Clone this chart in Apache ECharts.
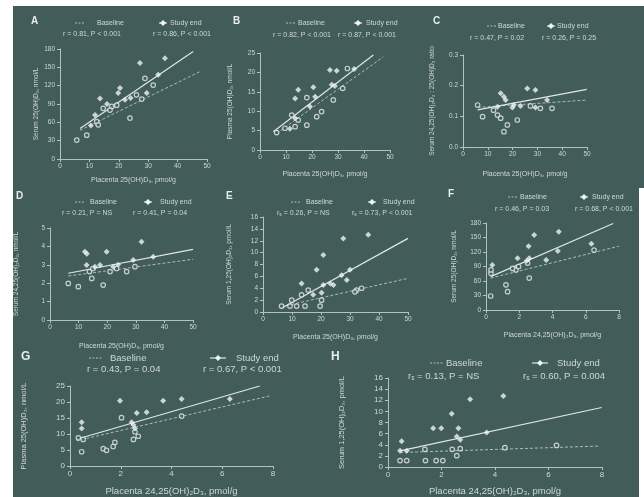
<!DOCTYPE html>
<html>
<head>
<meta charset="utf-8">
<script src="https://cdn.jsdelivr.net/npm/echarts@6/dist/echarts.min.js"></script>
<style>
html, body { margin: 0; padding: 0; background: #fff; }
#wrap { position: relative; width: 644px; height: 497px; overflow: hidden; }
#bg { position: absolute; left: 13px; top: 6px; width: 631px; height: 491px; background: #425c59; }
#cut { position: absolute; left: 639px; top: 188px; width: 5px; height: 309px; background: #fff; }
#chart { position: absolute; left: 0; top: 0; width: 644px; height: 497px; }
</style>
</head>
<body>
<div id="wrap"><div id="bg"></div><div id="cut"></div><div id="chart"></div></div>
<script>
// A: serum 25(OH)D3 vs placenta 25(OH)D3
var aBase = [[5.7,31],[9.1,39],[12.5,61],[13,56],[14.7,83],[17.6,86],[19.3,88],[23.8,67],[26,105],[27.8,98],[31.7,121],[28.9,132],[17,80]];
var aEnd = [[11.9,72],[13.6,99],[19.8,108],[20.4,116],[22.1,97],[29.5,108],[33.4,138],[27.2,157],[35.7,165],[16,90],[24,100],[10.5,55]];
var aBaseFit = [[6.8,47],[47.6,143]];
var aEndFit = [[6.8,50],[45.3,176]];
// B: plasma 25(OH)D3 vs placenta 25(OH)D3
var bBase = [[6.4,4.5],[9.6,5.6],[13.5,6],[14.7,7.7],[18,6.4],[12.2,9],[21.8,8.6],[23.7,9.9],[28.2,12.9],[31.8,15.9],[18,13.5],[33.6,21]];
var bEnd = [[11.5,5.5],[13.5,8.2],[19.2,11.2],[13.5,13.3],[21.2,13.7],[14.7,15.5],[20.5,16.2],[27.6,16.8],[28.8,16.5],[26.9,20.6],[29.5,20.4],[36.2,20.9]];
var bBaseFit = [[6.4,4.3],[47.4,24]];
var bEndFit = [[5.1,4.7],[43.6,24.5]];
// C: 24,25(OH)2D3 : 25(OH)D3 ratio vs placenta 25(OH)D3
var cBase = [[5.9,0.137],[13.9,0.104],[15.2,0.094],[17.9,0.072],[16.5,0.05],[21.9,0.088],[27.2,0.134],[31.2,0.126],[35.9,0.126],[7.9,0.099],[12.3,0.12]];
var cEnd = [[15.2,0.175],[16.5,0.164],[17.2,0.153],[25.9,0.191],[29.2,0.186],[13.9,0.131],[19.9,0.129],[20.5,0.137],[23.2,0.134],[29.2,0.129],[33.9,0.153]];
var cBaseFit = [[5.9,0.129],[49.9,0.153]];
var cEndFit = [[5.9,0.121],[49.9,0.188]];
// D: serum 24,25(OH)2D3 vs placenta 25(OH)D3
var dBase = [[6.4,1.99],[9.9,1.81],[14.6,2.26],[18.6,1.9],[21,2.63],[26.8,2.63],[13.8,2.63],[29.7,2.9],[23.3,2.8],[15,2.8]];
var dEnd = [[12.2,3.71],[12.9,3.6],[19.8,3.71],[32,4.25],[12.8,2.99],[15.7,2.9],[17.5,2.99],[22.1,2.9],[23.8,3],[29.1,3.26],[36.1,3.44]];
var dBaseFit = [[6.4,2.39],[50,3.3]];
var dEndFit = [[6.4,2.54],[50,3.84]];
// E: serum 1,25(OH)2D3 vs placenta 25(OH)D3
var eBase = [[6.4,1.0],[9.3,1.0],[11.6,1.0],[14.5,1.0],[19.7,1.0],[9.9,2.0],[20.2,2.0],[13.3,2.9],[32.3,3.7],[34,4.0],[31.7,3.4],[15.6,3.7]];
var eEnd = [[17.3,2.9],[20.2,3.25],[13.3,4.8],[20.8,4.55],[24.3,4.55],[23.2,4.8],[28.9,5.4],[27.1,6.2],[30,7.1],[18.5,7.1],[20.8,9.6],[27.7,12.4],[36.3,13]];
var eBaseFit = [[6.4,0.9],[50,5.67]];
var eEndFit = [[6.4,0.62],[50,12.4]];
// F: serum 25(OH)D3 vs placenta 24,25(OH)2D3
var fBase = [[0.28,29],[1.3,38],[1.2,52],[2.6,66],[0.3,76],[0.3,83],[1.8,83],[1.6,86],[1.96,90],[2.5,97],[6.5,124]];
var fEnd = [[0.38,93],[2.45,102],[1.9,107],[2.6,107],[3.62,103.5],[4.32,122],[2.56,132],[6.34,137],[2.9,155],[4.38,162]];
var fBaseFit = [[0.28,66],[8,132]];
var fEndFit = [[0.28,69],[7.65,179]];
// G: plasma 25(OH)D3 vs placenta 24,25(OH)2D3
var gBase = [[0.46,4.45],[1.31,5.4],[1.44,4.9],[1.7,6.1],[1.77,7.4],[0.33,8.8],[0.52,8.3],[2.5,8.3],[2.69,9.3],[2.56,10.7],[4.4,15.6],[2.03,15.1]];
var gEnd = [[0.46,11.7],[0.46,13.7],[2.43,13.7],[2.5,12.8],[2.56,11.7],[2.63,16.6],[3.02,16.8],[1.97,20.4],[3.67,20.4],[4.4,20.9],[6.3,20.9]];
var gBaseFit = [[0.26,7.9],[7.87,21.9]];
var gEndFit = [[0.26,8.35],[7.48,25]];
// H: serum 1,25(OH)2D3 vs placenta 24,25(OH)2D3
var hBase = [[0.45,1.16],[0.7,1.16],[1.4,1.16],[1.8,1.16],[2.05,1.16],[2.57,2.03],[1.38,3.18],[2.4,3.18],[2.7,3.3],[4.37,3.48],[6.3,3.88]];
var hEnd = [[0.45,2.9],[0.7,2.9],[0.51,4.64],[2.57,5.5],[2.7,4.9],[3.69,6.2],[1.69,6.96],[1.99,6.96],[2.63,6.96],[2.38,9.57],[3.07,12.2],[4.31,12.75]];
var hBaseFit = [[0.45,2.6],[7.92,3.77]];
var hEndFit = [[0.45,2.9],[7.99,10.7]];

var xTicks25 = [0, 50, 10];
var xTicks2425 = [0, 8, 2];

var fg = "#cfd9d5";
var axisCol = "#b4c2be";
var font = "Liberation Sans";

var panels = [
	{ id: "A", box: [60, 49, 147, 110], x: xTicks25, y: [0, 180, 30], xName: "Placenta 25(OH)D₃, pmol/g", yName: "Serum 25(OH)D₃, nmol/L", xGap: 18, yGap: 20, base: aBase, end: aEnd, baseFit: aBaseFit, endFit: aEndFit },
	{ id: "B", box: [260, 53, 130, 97], x: xTicks25, y: [0, 25, 5], xName: "Placenta 25(OH)D₃, pmol/g", yName: "Plasma 25(OH)D₃, nmol/L", xGap: 21, yGap: 26, base: bBase, end: bEnd, baseFit: bBaseFit, endFit: bEndFit },
	{ id: "C", box: [463, 55, 124, 92], x: xTicks25, y: [0, 0.3, 0.1], xName: "Placenta 25(OH)D₃, pmol/g", yName: "Serum 24,25(OH)₂D₃ : 25(OH)D₃ ratio", xGap: 24, yGap: 27, base: cBase, end: cEnd, baseFit: cBaseFit, endFit: cEndFit, dec: 1 },
	{ id: "D", box: [50, 228, 143, 92], x: xTicks25, y: [0, 5, 1], xName: "Placenta 25(OH)D₃, pmol/g", yName: "Serum 24,25(OH)₂D₃, nmol/L", xGap: 23, yGap: 30, base: dBase, end: dEnd, baseFit: dBaseFit, endFit: dEndFit },
	{ id: "E", box: [263, 217, 145, 95], x: xTicks25, y: [0, 16, 2], xName: "Placenta 25(OH)D₃, pmol/g", yName: "Serum 1,25(OH)₂D₃, pmol/L", xGap: 22, yGap: 30, base: eBase, end: eEnd, baseFit: eBaseFit, endFit: eEndFit },
	{ id: "F", box: [486, 223, 133, 87], x: xTicks2425, y: [0, 180, 30], xName: "Placenta 24,25(OH)₂D₃, pmol/g", yName: "Serum 25(OH)D₃, nmol/L", xGap: 22, yGap: 28, base: fBase, end: fEnd, baseFit: fBaseFit, endFit: fEndFit },
	{ id: "G", box: [70, 386, 203, 86], x: xTicks2425, y: [0, 25, 5], xName: "Placenta 24,25(OH)₂D₃, pmol/g", yName: "Plasma 25(OH)D₃, nmol/L", xGap: 20, yGap: 42, base: gBase, end: gEnd, baseFit: gBaseFit, endFit: gEndFit, big: true },
	{ id: "H", box: [388, 378, 214, 92], x: xTicks2425, y: [0, 16, 2], xName: "Placenta 24,25(OH)₂D₃, pmol/g", yName: "Serum 1,25(OH)₂D₃, pmol/L", xGap: 19, yGap: 42, base: hBase, end: hEnd, baseFit: hBaseFit, endFit: hEndFit, big: true }
];

// legend text: [label pos, row1 y, baseline line x, baseline text x, end marker x, end text x, row2 y, stat1 x, stat2 x, stat1, stat2]
var legends = [
	[[35, 22], 23, 75, 97, 163, 170, 34, 63, 153, "r = 0.81, P < 0.001", "r = 0.86, P < 0.001"],
	[[237, 22], 23, 286, 298, 358, 366, 35, 273, 338, "r = 0.82, P < 0.001", "r = 0.87, P < 0.001"],
	[[437, 22], 26, 487, 498, 551, 557, 38, 470, 542, "r = 0.47, P = 0.02", "r = 0.26, P = 0.25"],
	[[20, 197], 202, 75, 90, 148, 160, 213, 62, 133, "r = 0.21, P = NS", "r = 0.41, P = 0.04"],
	[[230, 197], 202, 291, 306, 372, 383, 213, 277, 352, "{r|r}{s|s} = 0.26, P = NS", "{r|r}{s|s} = 0.73, P < 0.001"],
	[[452, 195], 197, 508, 520, 584, 592, 209, 495, 575, "r = 0.46, P = 0.03", "r = 0.68, P < 0.001"],
	[[25, 357], 358, 89, 110, 218, 236, 369, 87, 203, "r = 0.43, P = 0.04", "r = 0.67, P < 0.001"],
	[[335, 357], 363, 430, 446, 540, 557, 376, 408, 523, "{r|r}{s|s} = 0.13, P = NS", "{r|r}{s|s} = 0.60, P = 0.004"]
];

var grids = [], xAxes = [], yAxes = [], series = [], graphics = [];

panels.forEach(function (p, i) {
	var fs = p.big ? 8 : 6.5;
	grids.push({ left: p.box[0], top: p.box[1], width: p.box[2], height: p.box[3] });
	xAxes.push({
		gridIndex: i, type: "value", min: p.x[0], max: p.x[1], interval: p.x[2],
		name: p.xName, nameLocation: "middle", nameGap: p.xGap,
		nameTextStyle: { color: fg, fontSize: p.big ? 9.5 : 7, fontFamily: font },
		axisLine: { show: true, onZero: false, lineStyle: { color: axisCol, width: 1 } },
		axisTick: { show: true, length: 3, lineStyle: { color: axisCol } },
		axisLabel: { color: fg, fontSize: fs, fontFamily: font, margin: 4 },
		splitLine: { show: false }
	});
	yAxes.push({
		gridIndex: i, type: "value", min: p.y[0], max: p.y[1], interval: p.y[2],
		name: p.yName, nameLocation: "middle", nameGap: p.yGap, nameRotate: 90,
		nameTextStyle: { color: fg, fontSize: p.big ? 7.5 : 6.5, fontFamily: font },
		axisLine: { show: true, lineStyle: { color: axisCol, width: 1 } },
		axisTick: { show: true, length: 3, lineStyle: { color: axisCol } },
		axisLabel: { color: fg, fontSize: fs, fontFamily: font, margin: 5,
			formatter: function (v) { return p.dec ? v.toFixed(1) : v; } },
		splitLine: { show: false }
	});
	series.push({
		type: "line", xAxisIndex: i, yAxisIndex: i, data: p.baseFit, symbol: "none",
		lineStyle: { color: "#aebcb8", width: 1, type: [3, 2] }, silent: true, z: 2
	});
	series.push({
		type: "line", xAxisIndex: i, yAxisIndex: i, data: p.endFit, symbol: "none",
		lineStyle: { color: "#dfe7e4", width: 1.2 }, silent: true, z: 2
	});
	series.push({
		type: "scatter", xAxisIndex: i, yAxisIndex: i, data: p.base, symbol: "circle", symbolSize: 4.5,
		itemStyle: { color: "#425c59", borderColor: "#e6eeeb", borderWidth: 1.2 }, z: 3
	});
	series.push({
		type: "scatter", xAxisIndex: i, yAxisIndex: i, data: p.end, symbol: "diamond", symbolSize: 6,
		itemStyle: { color: "#eef4f2" }, z: 4
	});

	var L = legends[i];
	var lf = p.big ? 9.5 : 7;
	var rich = { r: { fontSize: lf, fontFamily: font, fill: fg }, s: { fontSize: lf * 0.7, fontFamily: font, fill: fg, padding: [4, 0, 0, 0] } };
	var m = L[4], ly = L[1];
	graphics.push({ type: "text", x: L[0][0] - 4, y: L[0][1] - 6, style: { text: p.id, fill: "#e6eeeb", font: "bold " + (p.big ? 12 : 10) + "px " + font } });
	graphics.push({ type: "line", shape: { x1: L[2], y1: ly, x2: L[2] + (p.big ? 14 : 9), y2: ly }, style: { stroke: "#aebcb8", lineWidth: 1, lineDash: [2, 1.5] } });
	graphics.push({ type: "text", x: L[3], y: ly, style: { text: "Baseline", fill: fg, font: lf + "px " + font, verticalAlign: "middle" } });
	graphics.push({ type: "line", shape: { x1: m - (p.big ? 8 : 4), y1: ly, x2: m + (p.big ? 8 : 4), y2: ly }, style: { stroke: "#dfe7e4", lineWidth: 1.2 } });
	graphics.push({ type: "polygon", shape: { points: [[m, ly - 3], [m + 3, ly], [m, ly + 3], [m - 3, ly]] }, style: { fill: "#eef4f2" } });
	graphics.push({ type: "text", x: L[5], y: ly, style: { text: "Study end", fill: fg, font: lf + "px " + font, verticalAlign: "middle" } });
	graphics.push({ type: "text", x: L[7], y: L[6], style: { text: L[9], rich: rich, fill: fg, font: lf + "px " + font, verticalAlign: "middle" } });
	graphics.push({ type: "text", x: L[8], y: L[6], style: { text: L[10], rich: rich, fill: fg, font: lf + "px " + font, verticalAlign: "middle" } });
});

var chart = echarts.init(document.getElementById("chart"), null, { renderer: "canvas" });
chart.setOption({
	backgroundColor: "transparent",
	animation: false,
	grid: grids,
	xAxis: xAxes,
	yAxis: yAxes,
	series: series,
	graphic: graphics
});
</script>
</body>
</html>
